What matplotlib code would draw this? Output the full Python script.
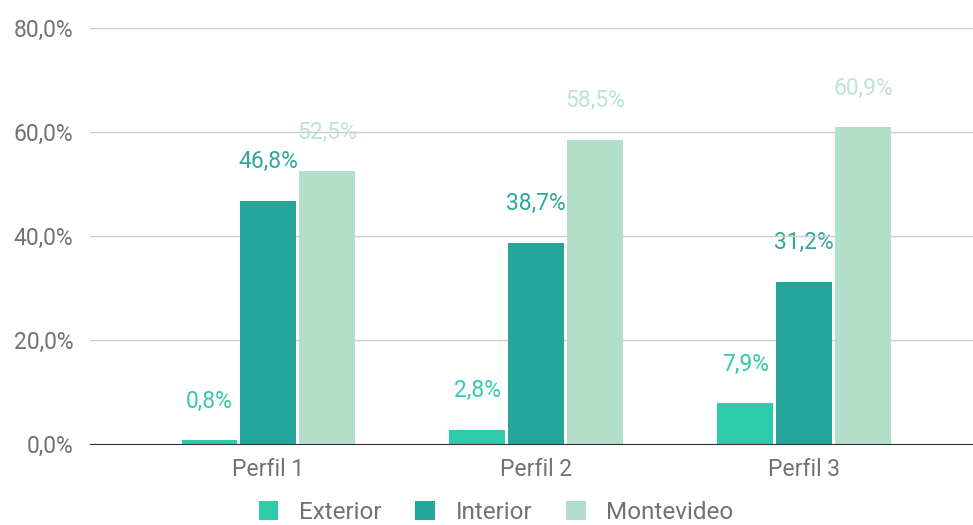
import numpy as np
import matplotlib.pyplot as plt
from matplotlib.ticker import FuncFormatter

plt.rcParams['font.family'] = ['Roboto', 'DejaVu Sans']

# Dados
perfis = ['Perfil 1', 'Perfil 2', 'Perfil 3']
exterior = [0.8, 2.8, 7.9]
interior = [46.8, 38.7, 31.2]
montevideo = [52.5, 58.5, 60.9]

series = [
    ('Exterior', exterior, '#2ecbaa', '#34c9ab'),
    ('Interior', interior, '#26a69a', '#2fa89b'),
    ('Montevideo', montevideo, '#b3dfca', '#bfe3d3'),
]

fig = plt.figure(figsize=(9.73, 5.25), dpi=100)
ax = fig.add_axes([0.0925, 0.154, 0.9075, 0.793])

x = np.arange(len(perfis))
largura = 0.207
passo = 0.22

for i, (nome, valores, cor, cor_txt) in enumerate(series):
    pos = x + (i - 1) * passo
    ax.bar(pos, valores, width=largura, color=cor, label=nome, zorder=3)
    for px, v in zip(pos, valores):
        ax.annotate(f'{v:.1f}%'.replace('.', ','), (px, v), xytext=(0, 28),
                    textcoords='offset points', ha='center', va='center',
                    fontsize=16.5, color=cor_txt, zorder=2,
                    bbox=dict(boxstyle='square,pad=0.1', fc='white', ec='none'))

ax.set_xlim(-0.665, 2.63)
ax.set_ylim(0, 80)
ax.set_yticks([0, 20, 40, 60, 80])
ax.yaxis.set_major_formatter(FuncFormatter(lambda v, p: f'{v:.1f}%'.replace('.', ',')))
ax.set_xticks(x)
ax.set_xticklabels(perfis)
ax.tick_params(axis='both', length=0, labelsize=16.5, labelcolor='#727272')
ax.tick_params(axis='x', pad=10)
ax.tick_params(axis='y', pad=12)
ax.grid(axis='y', color='#cccccc', linewidth=1, zorder=1)
ax.set_axisbelow(False)
for lado in ['top', 'right', 'left']:
    ax.spines[lado].set_visible(False)
ax.spines['bottom'].set_color('#333333')
ax.spines['bottom'].set_zorder(5)

fig.legend(loc='center', bbox_to_anchor=(0.51, 0.024), ncol=3, frameon=False,
           fontsize=17.5, labelcolor='#727272', handlelength=0.8, handleheight=0.8,
           columnspacing=1.4, handletextpad=0.85)

fig.savefig('out.png', dpi=100)
